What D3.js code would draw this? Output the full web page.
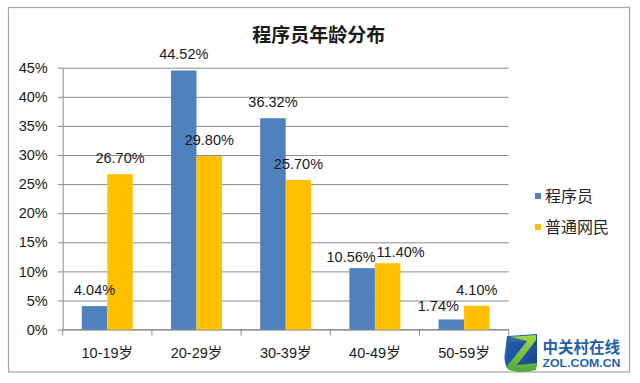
<!DOCTYPE html>
<html>
<head>
<meta charset="utf-8">
<script src="https://cdn.jsdelivr.net/npm/d3@7"></script>
<style>
html,body{margin:0;padding:0;background:#fff;}
svg{display:block;}
text{font-family:"Liberation Sans","Noto Sans CJK SC",Arial,sans-serif;}
</style>
</head>
<body>
<svg id="chart" width="640" height="383"></svg>
<script>
const categories = ["10-19岁","20-29岁","30-39岁","40-49岁","50-59岁"];
const seriesNames = ["程序员","普通网民"];
const programmers = [4.04, 44.52, 36.32, 10.56, 1.74];
const netizens = [26.70, 29.80, 25.70, 11.40, 4.10];
const yTicks = [0,5,10,15,20,25,30,35,40,45];
const title = "程序员年龄分布";
const colors = ["#4f81bd","#ffc000"];

const svg = d3.select("#chart");

// outer frame
svg.append("rect").attr("x",8.5).attr("y",7.5).attr("width",621).attr("height",364.5)
  .attr("fill","#fff").attr("stroke","#a6a6a6").attr("stroke-width",1.2);

const pLeft = 62.7, pRight = 508.7, pTop = 67.7, pBottom = 329.6;
const x = d3.scaleBand().domain(categories).range([pLeft,pRight]).padding(0);
const bw = x.bandwidth();
const x1 = d3.scaleBand().domain(seriesNames).range([bw/2-25.5, bw/2+25.5]).padding(0);
const y = d3.scaleLinear().domain([0,45]).range([pBottom, pTop]);

// title
svg.append("text").attr("x",318.7).attr("y",42).attr("text-anchor","middle")
  .style("font-family","'Noto Sans CJK SC',sans-serif").style("font-size","19px").style("font-weight","bold")
  .attr("fill","#1a1a1a").text(title);

// y axis with gridlines
const yAxis = d3.axisLeft(y).tickValues(yTicks).tickFormat(d => d + "%")
  .tickSizeInner(-(pRight-pLeft)).tickSizeOuter(0).tickPadding(15);
const gy = svg.append("g").attr("transform",`translate(${pLeft},0)`).call(yAxis);
gy.select(".domain").attr("stroke","#8c8c8c");
gy.selectAll(".tick line").attr("x1",-5).attr("stroke","#8c8c8c");
gy.selectAll(".tick text").style("font-size","14.5px").attr("fill","#1a1a1a");

// x axis
svg.append("line").attr("x1",pLeft).attr("x2",pRight).attr("y1",pBottom).attr("y2",pBottom).attr("stroke","#8c8c8c");
const bounds = categories.map(c => x(c)).concat([pRight]);
svg.selectAll(".xtick").data(bounds).enter().append("line")
  .attr("x1",d=>d).attr("x2",d=>d).attr("y1",pBottom).attr("y2",pBottom+6).attr("stroke","#8c8c8c");
svg.selectAll(".xlab").data(categories).enter().append("text")
  .attr("x",d=>x(d)+bw/2).attr("y",358).attr("text-anchor","middle")
  .style("font-size","14.5px").attr("fill","#1a1a1a").text(d=>d);

// bars
const data = [];
categories.forEach((c,i)=>{
  data.push({cat:c, s:seriesNames[0], v:programmers[i], ci:0});
  data.push({cat:c, s:seriesNames[1], v:netizens[i], ci:1});
});
svg.selectAll(".bar").data(data).enter().append("rect")
  .attr("x",d=>x(d.cat)+x1(d.s)).attr("width",x1.bandwidth())
  .attr("y",d=>y(d.v)).attr("height",d=>pBottom-y(d.v))
  .attr("fill",d=>colors[d.ci]);

// label nudges (to avoid overlap, as in the original)
function nudge(d){
  if (d.cat==="50-59岁" && d.ci===0) return [-13, 3];
  if (d.cat==="40-49岁" && d.ci===0) return [-11, 5];
  if (d.cat==="40-49岁" && d.ci===1) return [13, 5];
  return [0,0];
}
svg.selectAll(".lbl").data(data).enter().append("text")
  .attr("x",d=>x(d.cat)+x1(d.s)+x1.bandwidth()/2 + nudge(d)[0])
  .attr("y",d=>y(d.v) - 11 + nudge(d)[1])
  .attr("text-anchor","middle").style("font-size","14.5px").attr("fill","#1a1a1a")
  .text(d=>d.v.toFixed(2)+"%");

// legend
const lg = svg.append("g");
seriesNames.forEach((s,i)=>{
  const yy = 196 + i*31;
  lg.append("rect").attr("x",535).attr("y",yy-3).attr("width",6).attr("height",6).attr("fill",colors[i]);
  lg.append("text").attr("x",545).attr("y",yy+5.5).style("font-family","'Noto Sans CJK SC',sans-serif")
    .style("font-size","16px").attr("fill","#262626").text(s);
});

// ZOL logo
const logo = svg.append("g").attr("transform","translate(503,334)");
const defs = svg.append("defs");
const gb = defs.append("linearGradient").attr("id","gb").attr("x1","0").attr("y1","0").attr("x2","1").attr("y2","1");
gb.append("stop").attr("offset","0").attr("stop-color","#2f6fc0");
gb.append("stop").attr("offset","1").attr("stop-color","#163e8a");
const gg = defs.append("linearGradient").attr("id","gg").attr("x1","0").attr("y1","0").attr("x2","0").attr("y2","1");
gg.append("stop").attr("offset","0").attr("stop-color","#a6d64a");
gg.append("stop").attr("offset","1").attr("stop-color","#4ea83a");
logo.append("path").attr("d","M4,2 L34,0 L34,32 L6,36 Q0,30 2,18 Z").attr("fill","url(#gb)");
logo.append("path").attr("d","M6,3 L33,1 L33,6 L14,31 L34,29 L33,36 Q18,40 6,36 L4,32 L24,7 L6,8 Z").attr("fill","url(#gg)");
logo.append("path").attr("d","M4,2 L24,7 L4,32 Z").attr("fill","#1f57a8").attr("opacity",0.85);
svg.append("text").attr("x",542.5).attr("y",353).style("font-family","'Noto Sans CJK SC',sans-serif")
  .style("font-size","15.5px").style("font-weight","bold").attr("fill","#1f5fae").text("中关村在线");
svg.append("text").attr("x",542.5).attr("y",366.5).attr("textLength",78).attr("lengthAdjust","spacingAndGlyphs")
  .style("font-family","'Liberation Sans',Arial,sans-serif")
  .style("font-size","11.5px").style("font-weight","bold").attr("fill","#1f5fae").text("ZOL.COM.CN");
</script>
</body>
</html>
